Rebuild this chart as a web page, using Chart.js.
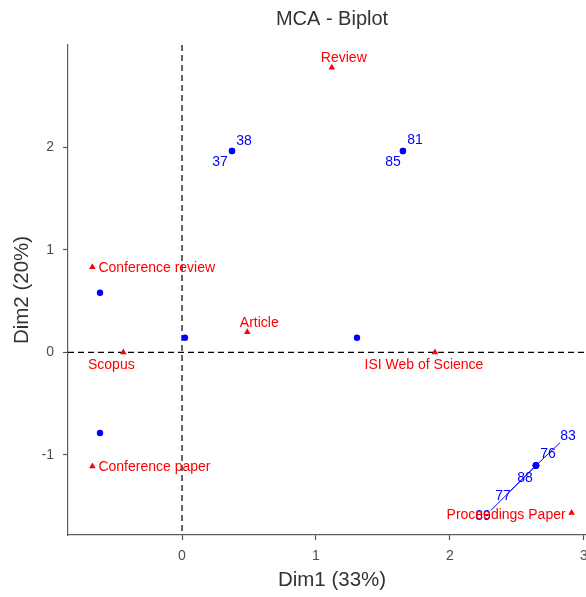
<!DOCTYPE html>
<html>
<head>
<meta charset="utf-8">
<script src="https://cdn.jsdelivr.net/npm/chart.js@4.4.0/dist/chart.umd.min.js"></script>
<style>
    html, body { margin: 0; padding: 0; background: #fff; overflow: hidden; }
    #wrap { width: 586px; height: 597px; overflow: hidden; }
</style>
</head>
<body>
<div id="wrap"><canvas id="myChart" width="600" height="597"></canvas></div>
<script>
// individuals (rows) - several share the same coordinates
var indLabels = ['38', '37', '81', '85', '', '', '', '', '83', '76', '88', '77', '89'];
var indX = [0.373, 0.373, 1.649, 1.649, -0.612, 0.022, 1.306, -0.612, 2.642, 2.642, 2.642, 2.642, 2.642];
var indY = [1.966, 1.966, 1.966, 1.966, 0.582, 0.143, 0.143, -0.786, -1.104, -1.104, -1.104, -1.104, -1.104];

// variable categories
var varLabels = ['Review', 'Conference review', 'Article', 'Scopus', 'ISI Web of Science', 'Conference paper', 'Proceedings Paper'];
var varX = [1.118, -0.669, 0.487, -0.438, 1.888, -0.669, 2.908];
var varY = [2.78, 0.832, 0.199, 0, 0, -1.111, -1.565];

var xTicks = [0, 1, 2, 3];
var yTicks = [-1, 0, 1, 2];

// label placement in px: [dx, dy, align, segment]
var labelNudge = {
    '38': [12, -10], '37': [-12, 11], '81': [12, -11], '85': [-10, 11],
    '83': [32, -29, 'center', true], '76': [12, -11], '88': [-11, 13],
    '77': [-33, 31, 'center', true], '89': [-53, 51, 'center', true],
    'Review': [12, -9], 'Conference review': [6, 1, 'left'], 'Article': [12, -9],
    'Scopus': [-12, 13], 'ISI Web of Science': [-11, 13],
    'Conference paper': [6, 1, 'left'], 'Proceedings Paper': [-6, 2, 'right']
};

var FONT = '"Liberation Sans", Arial, sans-serif';

function toPoints(xs, ys) {
    return xs.map(function (x, i) { return {x: x, y: ys[i]}; });
}

var zeroLines = {
    id: 'zeroLines',
    beforeDatasetsDraw: function (chart) {
        var ctx = chart.ctx, a = chart.chartArea;
        var x0 = chart.scales.x.getPixelForValue(0);
        var y0 = chart.scales.y.getPixelForValue(0);
        ctx.save();
        ctx.strokeStyle = '#000';
        ctx.lineWidth = 1.2;
        ctx.setLineDash([6, 4]);
        ctx.beginPath();
        ctx.moveTo(x0, a.top); ctx.lineTo(x0, a.bottom);
        ctx.moveTo(a.left, y0); ctx.lineTo(a.right, y0);
        ctx.stroke();
        ctx.restore();
    }
};

var pointLabels = {
    id: 'pointLabels',
    afterDatasetsDraw: function (chart) {
        var ctx = chart.ctx, xs = chart.scales.x, ys = chart.scales.y;
        ctx.save();
        ctx.font = '14px ' + FONT;
        ctx.textBaseline = 'middle';
        [[indLabels, indX, indY, '#0000ff'], [varLabels, varX, varY, '#ff0000']].forEach(function (set) {
            set[0].forEach(function (lab, i) {
                if (!lab) return;
                var n = labelNudge[lab];
                var px = xs.getPixelForValue(set[1][i]);
                var py = ys.getPixelForValue(set[2][i]);
                var align = n[2] || 'center';
                var tx = px + n[0], ty = py + n[1];
                ctx.fillStyle = set[3];
                ctx.textAlign = align;
                ctx.fillText(lab, tx, ty);
                if (n[3]) {
                    var w = ctx.measureText(lab).width;
                    var left = align == 'left' ? tx : (align == 'right' ? tx - w : tx - w / 2);
                    var cx = Math.max(left, Math.min(px, left + w));
                    var cy = Math.max(ty - 6, Math.min(py, ty + 6));
                    ctx.strokeStyle = set[3];
                    ctx.lineWidth = 1;
                    ctx.beginPath();
                    ctx.moveTo(px, py);
                    ctx.lineTo(cx, cy);
                    ctx.stroke();
                }
            });
        });
        ctx.restore();
    }
};

var ctx = document.getElementById('myChart').getContext('2d');
var myChart = new Chart(ctx, {
    type: 'scatter',
    data: {
        datasets: [{
            label: 'Individuals',
            data: toPoints(indX, indY),
            pointStyle: 'circle',
            pointRadius: 3.2,
            backgroundColor: '#0000ff',
            borderWidth: 0
        }, {
            label: 'Variables',
            data: toPoints(varX, varY),
            pointStyle: 'triangle',
            pointRadius: 3.8,
            backgroundColor: '#ff0000',
            borderWidth: 0
        }]
    },
    options: {
        responsive: false,
        animation: false,
        devicePixelRatio: 1,
        layout: { padding: { left: 0, top: 0, bottom: 0, right: 4 } },
        plugins: {
            legend: { display: false },
            tooltip: { enabled: false },
            title: {
                display: true,
                text: 'MCA - Biplot',
                fullSize: false,
                color: '#333',
                font: { family: FONT, size: 20, weight: 'normal' },
                padding: { top: 7, bottom: 14 }
            }
        },
        scales: {
            x: {
                type: 'linear',
                min: -0.851,
                max: 3.09,
                afterBuildTicks: function (s) { s.ticks = xTicks.map(function (v) { return {value: v}; }); },
                afterFit: function (s) { s.height = 62; s.paddingLeft = 0; s.paddingRight = 0; },
                ticks: { color: '#4d4d4d', font: { family: FONT, size: 14 }, padding: 8, maxRotation: 0 },
                grid: { drawOnChartArea: false, tickLength: 5, tickColor: '#555', tickWidth: 1.2 },
                border: { color: '#5e5e5e', width: 1.2 },
                title: { display: true, text: 'Dim1 (33%)', color: '#333', font: { family: FONT, size: 20.5 }, padding: { top: 0, bottom: 4 } }
            },
            y: {
                type: 'linear',
                min: -1.782,
                max: 3.0,
                afterBuildTicks: function (s) { s.ticks = yTicks.map(function (v) { return {value: v}; }); },
                afterFit: function (s) { s.width = 68; s.paddingTop = 0; s.paddingBottom = 0; },
                ticks: { color: '#4d4d4d', font: { family: FONT, size: 14 }, padding: 9 },
                grid: { drawOnChartArea: false, tickLength: 5, tickColor: '#555', tickWidth: 1.2 },
                border: { color: '#5e5e5e', width: 1.2 },
                title: { display: true, text: 'Dim2 (20%)', color: '#333', font: { family: FONT, size: 20.5 }, padding: { top: 10, bottom: 0 } }
            }
        }
    },
    plugins: [zeroLines, pointLabels]
});
</script>
</body>
</html>
